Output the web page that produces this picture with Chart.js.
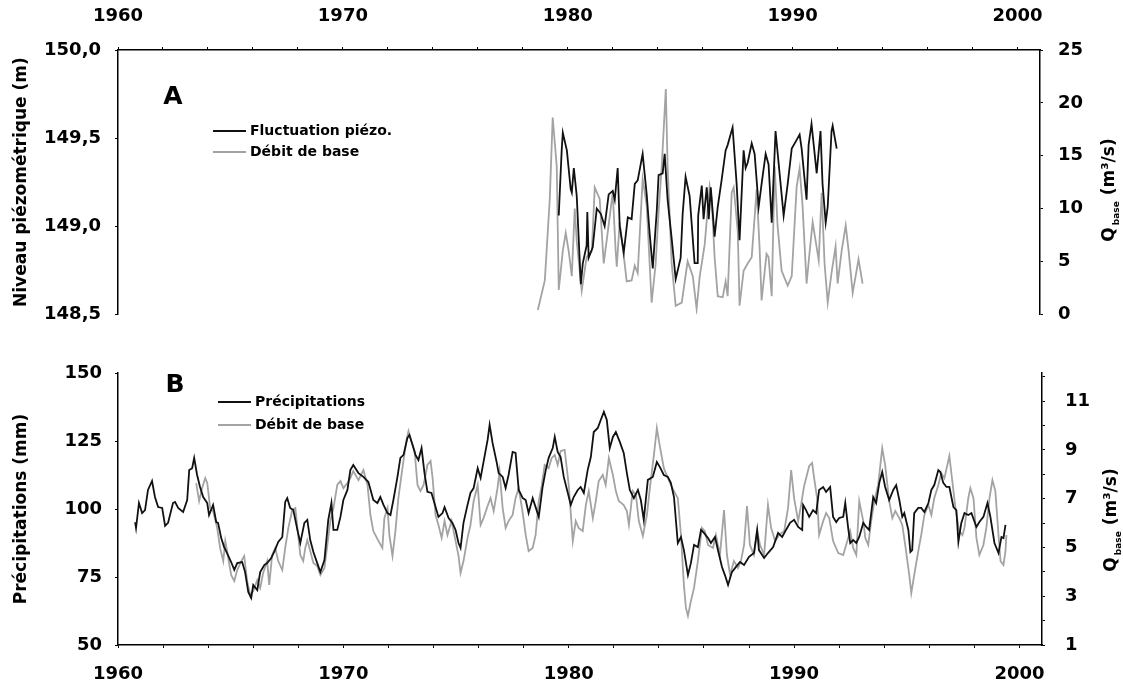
<!DOCTYPE html>
<html>
<head>
<meta charset="utf-8">
<script src="https://cdn.jsdelivr.net/npm/chart.js@4.4.1/dist/chart.umd.min.js"></script>
<style>
  html, body { margin: 0; padding: 0; background: #fff; }
  #wrap { position: relative; width: 1123px; height: 693px; }
  canvas { position: absolute; left: 0; }
  #chartA { top: 0; }
  #chartB { top: 340px; }
</style>
</head>
<body>
<div id="wrap">
  <canvas id="chartA" width="1123" height="340"></canvas>
  <canvas id="chartB" width="1123" height="353"></canvas>
</div>
<script>
// Panel A: piezometric level (left axis, m) and base flow (right axis, m3/s)
const piezoYears = [1979.6, 1979.73, 1979.78, 1979.96, 1980.13, 1980.18, 1980.27, 1980.4, 1980.58, 1980.67,
  1980.84, 1980.87, 1980.93, 1981.11, 1981.29, 1981.47, 1981.64, 1981.82, 1982.0, 1982.09,
  1982.22, 1982.31, 1982.49, 1982.67, 1982.84, 1982.98, 1983.11, 1983.33, 1983.51, 1983.64,
  1983.78, 1983.96, 1984.04, 1984.22, 1984.31, 1984.44, 1984.62, 1984.8, 1985.02, 1985.11,
  1985.24, 1985.42, 1985.64, 1985.78, 1985.8, 1985.96, 1986.04, 1986.18, 1986.27, 1986.36,
  1986.53, 1986.67, 1986.84, 1987.02, 1987.11, 1987.24, 1987.33, 1987.51, 1987.64, 1987.82,
  1987.91, 1988.0, 1988.18, 1988.31, 1988.49, 1988.62, 1988.8, 1988.93, 1989.07, 1989.24,
  1989.42, 1989.6, 1989.78, 1989.96, 1990.18, 1990.31, 1990.4, 1990.62, 1990.71, 1990.84,
  1991.07, 1991.24, 1991.33, 1991.47, 1991.56, 1991.73, 1991.78, 1991.96];
const piezoLevel = [149.06, 149.43, 149.53, 149.43, 149.21, 149.19, 149.33, 149.17, 148.67, 148.79,
  148.89, 149.08, 148.82, 148.88, 149.10, 149.07, 149.00, 149.18, 149.20, 149.15,
  149.33, 149.00, 148.85, 149.05, 149.04, 149.24, 149.26, 149.41, 149.18, 148.96,
  148.76, 149.09, 149.29, 149.30, 149.41, 149.15, 148.93, 148.70, 148.82, 149.07,
  149.28, 149.17, 148.79, 148.79, 149.06, 149.23, 149.04, 149.22, 149.04, 149.22,
  148.94, 149.11, 149.26, 149.43, 149.46, 149.52, 149.56, 149.24, 148.92, 149.43,
  149.33, 149.36, 149.47, 149.41, 149.11, 149.24, 149.41, 149.35, 149.02, 149.54,
  149.30, 149.06, 149.24, 149.44, 149.49, 149.52, 149.44, 149.15, 149.46, 149.58,
  149.30, 149.54, 149.24, 149.02, 149.11, 149.54, 149.57, 149.44];

const flowAYears = [1978.67, 1978.98, 1979.2, 1979.33, 1979.51, 1979.6, 1979.78, 1979.91, 1980.04, 1980.18,
  1980.31, 1980.4, 1980.62, 1980.84, 1981.07, 1981.2, 1981.42, 1981.6, 1981.78, 1982.0,
  1982.13, 1982.18, 1982.31, 1982.53, 1982.62, 1982.84, 1982.98, 1983.11, 1983.33, 1983.51,
  1983.73, 1983.91, 1984.04, 1984.18, 1984.36, 1984.44, 1984.62, 1984.8, 1985.07, 1985.33,
  1985.56, 1985.73, 1985.87, 1986.09, 1986.31, 1986.4, 1986.53, 1986.67, 1986.89, 1987.02,
  1987.11, 1987.29, 1987.38, 1987.56, 1987.64, 1987.82, 1988.0, 1988.18, 1988.4, 1988.53,
  1988.62, 1988.84, 1988.93, 1989.07, 1989.2, 1989.33, 1989.51, 1989.78, 1989.96, 1990.18,
  1990.31, 1990.44, 1990.62, 1990.76, 1990.89, 1991.07, 1991.16, 1991.29, 1991.42, 1991.56,
  1991.73, 1991.91, 1992.0, 1992.18, 1992.36, 1992.49, 1992.67, 1992.93, 1993.11];
const flowA = [0.4, 3.2, 10.9, 18.6, 14, 2.3, 6, 7.7, 6, 3.6,
  10, 6.9, 2.2, 5.4, 6, 12, 10.9, 4.8, 7.8, 11.5,
  6, 4.5, 8.7, 4.8, 3.1, 3.2, 4.6, 3.9, 12.8, 10.3,
  1.1, 4.8, 9.7, 14, 21.3, 14, 4.8, 0.8, 1.1, 5,
  3.6, 0.5, 3.6, 6.6, 12.1, 10.9, 5.4, 1.7, 1.6, 3.1,
  1.7, 11.5, 12, 7.8, 0.8, 4.1, 4.8, 5.4, 11.8, 6.3,
  1.3, 5.7, 5.4, 1.7, 14, 8.4, 4.1, 2.7, 3.6, 12.1,
  13.8, 10.3, 2.9, 6, 8.7, 6.3, 5.1, 11.5, 4.8, 1.1,
  3.9, 6.4, 2.9, 6, 8.4, 6, 2, 5.2, 2.9];

// Panel B: precipitation (left axis, mm) and base flow (right axis, m3/s)
const rainYears = [1960.76, 1960.8, 1960.93, 1961.07, 1961.2, 1961.33, 1961.51, 1961.64, 1961.78, 1961.96,
  1962.09, 1962.22, 1962.44, 1962.53, 1962.67, 1962.89, 1963.07, 1963.16, 1963.29, 1963.38,
  1963.51, 1963.64, 1963.78, 1963.96, 1964.04, 1964.22, 1964.36, 1964.44, 1964.58, 1964.71,
  1964.84, 1965.02, 1965.16, 1965.29, 1965.51, 1965.64, 1965.78, 1965.91, 1966.0, 1966.18,
  1966.31, 1966.49, 1966.62, 1966.8, 1966.93, 1967.11, 1967.29, 1967.42, 1967.51, 1967.64,
  1967.78, 1967.96, 1968.09, 1968.27, 1968.4, 1968.53, 1968.67, 1968.84, 1968.98, 1969.16,
  1969.33, 1969.47, 1969.56, 1969.73, 1969.87, 1970.0, 1970.18, 1970.31, 1970.44, 1970.67,
  1970.89, 1971.11, 1971.33, 1971.51, 1971.64, 1971.78, 1971.96, 1972.09, 1972.22, 1972.4,
  1972.53, 1972.67, 1972.84, 1972.93, 1973.07, 1973.2, 1973.33, 1973.47, 1973.6, 1973.73,
  1973.91, 1974.04, 1974.22, 1974.4, 1974.49, 1974.67, 1974.84, 1974.98, 1975.11, 1975.2,
  1975.33, 1975.51, 1975.64, 1975.78, 1975.96, 1976.09, 1976.22, 1976.4, 1976.49, 1976.62,
  1976.8, 1976.89, 1977.07, 1977.2, 1977.33, 1977.51, 1977.64, 1977.78, 1977.96, 1978.09,
  1978.22, 1978.4, 1978.53, 1978.67, 1978.84, 1978.98, 1979.11, 1979.29, 1979.38, 1979.51,
  1979.64, 1979.78, 1979.96, 1980.09, 1980.22, 1980.4, 1980.53, 1980.67, 1980.84, 1980.98,
  1981.11, 1981.29, 1981.42, 1981.56, 1981.69, 1981.82, 1981.96, 1982.09, 1982.27, 1982.44,
  1982.58, 1982.71, 1982.89, 1983.07, 1983.2, 1983.33, 1983.51, 1983.73, 1983.91, 1984.04,
  1984.22, 1984.4, 1984.53, 1984.67, 1984.84, 1984.98, 1985.11, 1985.29, 1985.42, 1985.56,
  1985.73, 1985.87, 1986.0, 1986.18, 1986.31, 1986.49, 1986.62, 1986.8, 1986.93, 1987.07,
  1987.24, 1987.42, 1987.6, 1987.78, 1988.0, 1988.22, 1988.36, 1988.44, 1988.67, 1988.84,
  1989.07, 1989.29, 1989.47, 1989.64, 1989.82, 1990.0, 1990.18, 1990.36, 1990.4, 1990.53,
  1990.67, 1990.84, 1990.98, 1991.11, 1991.29, 1991.42, 1991.6, 1991.73, 1991.87, 1992.0,
  1992.18, 1992.27, 1992.4, 1992.49, 1992.62, 1992.76, 1992.89, 1993.07, 1993.2, 1993.33,
  1993.51, 1993.64, 1993.78, 1993.91, 1994.04, 1994.22, 1994.4, 1994.53, 1994.67, 1994.8,
  1994.89, 1995.07, 1995.16, 1995.24, 1995.33, 1995.51, 1995.64, 1995.78, 1995.96, 1996.09,
  1996.22, 1996.4, 1996.49, 1996.62, 1996.76, 1996.89, 1997.07, 1997.2, 1997.29, 1997.42,
  1997.56, 1997.73, 1997.87, 1998.09, 1998.22, 1998.4, 1998.58, 1998.71, 1998.89, 1999.07,
  1999.2, 1999.29, 1999.38];
const rain = [95.2, 93, 102.2, 98.5, 99.6, 107, 110.3, 104.4, 100.7, 100.4,
  93.8, 94.9, 102.2, 102.6, 100.4, 98.9, 103.3, 114.3, 115, 118.8,
  112.5, 108.1, 104.4, 102.2, 97.8, 101.5, 95.2, 94.9, 89.3, 86,
  83.8, 80.5, 77.6, 80.1, 80.5, 76.8, 69.5, 67.3, 72.1, 70.2,
  76.8, 79.4, 80.1, 82, 84.2, 87.9, 89.7, 102.6, 104, 100.4,
  99.6, 92.3, 87.5, 94.9, 96, 88.6, 84.2, 80.1, 76.8, 81.2,
  96, 102.2, 92.3, 92.3, 97.1, 103.3, 107, 114.3, 116.2, 113.2,
  111.8, 109.9, 103.3, 102.2, 104.4, 101.5, 98.5, 97.8, 103.3, 111.8,
  118.8, 119.9, 126.1, 127.2, 123.5, 119.9, 118, 122.4, 113.2, 106.3,
  105.9, 102.2, 97.1, 98.5, 100.7, 96.7, 94.9, 92.3, 87.5, 85.7,
  94.9, 101.5, 105.9, 107.7, 115, 111.4, 117.3, 125.4, 130.9, 124.3,
  117.3, 113.2, 111.8, 107.7, 112.5, 121, 120.6, 107, 104, 103.3,
  98.5, 104, 100.7, 97.1, 108.1, 114.3, 118.8, 122.4, 126.5, 121,
  119.1, 111.8, 105.9, 101.5, 104.4, 107, 108.1, 105.9, 114.3, 119.1,
  128.3, 129.8, 132.7, 135.7, 132.7, 122.4, 126.5, 128.3, 124.6, 120.6,
  113.2, 107, 104, 107, 103.3, 96, 110.7, 111.8, 117.3, 115.5,
  112.5, 111.8, 109.6, 104.4, 87.5, 89.7, 84.9, 75.7, 80.1, 86.8,
  86, 92.3, 91.2, 89.3, 87.5, 89.7, 84.9, 78.7, 75.7, 72.1,
  76.8, 78.7, 80.5, 79.4, 82.4, 83.8, 92.3, 84.9, 82, 83.8,
  86, 91.2, 89.7, 92.3, 94.9, 96, 93.4, 92.3, 101.5, 99.6,
  97.1, 99.6, 98.5, 107, 108.1, 106.3, 108.1, 97.1, 95.2, 96.7,
  97.1, 102.2, 93, 87.5, 88.6, 87.5, 89.7, 94.9, 93.4, 92.3,
  104.4, 102.2, 109.6, 113.6, 108.1, 103.3, 107, 108.8, 103.3, 97.1,
  98.5, 92.3, 84.2, 84.9, 98.5, 100.4, 100.4, 98.9, 102.2, 107,
  108.8, 114.3, 113.6, 109.6, 108.1, 108.1, 100.7, 99.6, 87.9, 94.9,
  98.5, 97.8, 98.5, 93.4, 95.2, 97.1, 102.2, 97.1, 87.5, 83.8,
  89.7, 89.3, 94.2];

const flowBYears = [1963.47, 1963.6, 1963.73, 1963.87, 1963.96, 1964.09, 1964.22, 1964.4, 1964.53, 1964.67,
  1964.76, 1964.84, 1965.02, 1965.16, 1965.29, 1965.47, 1965.6, 1965.73, 1965.87, 1966.0,
  1966.18, 1966.31, 1966.44, 1966.62, 1966.71, 1966.84, 1966.98, 1967.11, 1967.29, 1967.42,
  1967.56, 1967.73, 1967.87, 1967.96, 1968.09, 1968.22, 1968.31, 1968.4, 1968.53, 1968.67,
  1968.84, 1968.98, 1969.16, 1969.29, 1969.42, 1969.56, 1969.73, 1969.87, 1970.0, 1970.18,
  1970.31, 1970.44, 1970.67, 1970.89, 1971.07, 1971.2, 1971.33, 1971.56, 1971.73, 1971.82,
  1971.96, 1972.04, 1972.18, 1972.31, 1972.44, 1972.62, 1972.8, 1972.89, 1973.02, 1973.16,
  1973.29, 1973.42, 1973.56, 1973.73, 1973.87, 1973.96, 1974.09, 1974.22, 1974.36, 1974.49,
  1974.62, 1974.8, 1974.98, 1975.11, 1975.2, 1975.33, 1975.51, 1975.64, 1975.78, 1975.96,
  1976.09, 1976.22, 1976.4, 1976.53, 1976.67, 1976.84, 1976.93, 1977.07, 1977.2, 1977.33,
  1977.51, 1977.64, 1977.78, 1977.96, 1978.09, 1978.22, 1978.4, 1978.53, 1978.67, 1978.8,
  1978.93, 1979.11, 1979.24, 1979.38, 1979.51, 1979.64, 1979.82, 1980.0, 1980.18, 1980.31,
  1980.44, 1980.62, 1980.76, 1980.89, 1981.07, 1981.2, 1981.33, 1981.51, 1981.64, 1981.78,
  1981.96, 1982.09, 1982.22, 1982.44, 1982.58, 1982.67, 1982.84, 1982.98, 1983.11, 1983.29,
  1983.47, 1983.6, 1983.78, 1983.91, 1984.04, 1984.22, 1984.4, 1984.53, 1984.67, 1984.84,
  1984.98, 1985.11, 1985.2, 1985.29, 1985.42, 1985.56, 1985.73, 1985.91, 1986.04, 1986.18,
  1986.4, 1986.53, 1986.71, 1986.89, 1987.02, 1987.16, 1987.33, 1987.51, 1987.64, 1987.78,
  1987.91, 1988.04, 1988.22, 1988.36, 1988.49, 1988.67, 1988.84, 1988.98, 1989.16, 1989.33,
  1989.56, 1989.73, 1989.87, 1990.0, 1990.18, 1990.31, 1990.44, 1990.67, 1990.8, 1990.89,
  1991.02, 1991.11, 1991.29, 1991.42, 1991.56, 1991.73, 1991.96, 1992.18, 1992.31, 1992.49,
  1992.62, 1992.76, 1992.89, 1993.07, 1993.16, 1993.29, 1993.42, 1993.56, 1993.73, 1993.91,
  1994.04, 1994.22, 1994.36, 1994.49, 1994.67, 1994.8, 1994.93, 1995.11, 1995.2, 1995.33,
  1995.51, 1995.64, 1995.78, 1995.96, 1996.09, 1996.22, 1996.4, 1996.53, 1996.67, 1996.89,
  1997.02, 1997.16, 1997.33, 1997.47, 1997.56, 1997.73, 1997.82, 1997.96, 1998.09, 1998.22,
  1998.4, 1998.53, 1998.67, 1998.8, 1998.93, 1999.07, 1999.16, 1999.29, 1999.38, 1999.42];
const flowB = [7.64, 6.9, 7.43, 7.84, 7.64, 6.61, 6.49, 5.8, 4.98, 4.44,
  5.26, 4.85, 3.87, 3.62, 4.07, 4.44, 4.65, 3.62, 3.05, 3.21,
  3.66, 3.34, 3.95, 4.44, 3.46, 4.69, 4.98, 4.44, 4.07, 4.98,
  5.8, 6.53, 6.61, 5.8, 4.69, 4.44, 4.98, 5.3, 4.85, 4.36,
  4.24, 3.87, 4.16, 5.1, 6.08, 6.61, 7.56, 7.72, 7.43, 7.64,
  7.84, 8.13, 7.76, 8.17, 7.56, 6.33, 5.67, 5.26, 4.98, 6.2,
  6.61, 5.51, 4.65, 5.67, 7.02, 8.25, 9.4, 9.77, 9.36, 8.95,
  7.56, 7.31, 7.56, 8.38, 8.54, 7.84, 6.33, 5.92, 5.39, 6.08,
  5.51, 6.08, 5.26, 4.65, 3.95, 4.44, 5.39, 5.92, 6.9, 7.56,
  5.92, 6.2, 6.7, 7.02, 6.49, 7.43, 8.13, 6.61, 5.8, 6.08,
  6.33, 7.02, 7.43, 6.41, 5.51, 4.85, 4.98, 5.51, 6.9, 7.52,
  8.38, 8.25, 8.66, 8.79, 8.38, 8.95, 9.0, 7.56, 5.26, 6.08,
  5.8, 5.67, 6.74, 7.31, 6.2, 6.9, 7.72, 7.97, 7.56, 8.66,
  7.97, 7.31, 6.9, 6.74, 6.49, 5.92, 7.31, 7.15, 6.08, 5.47,
  6.33, 7.43, 8.79, 9.89, 9.16, 8.25, 7.84, 7.56, 7.31, 7.02,
  5.51, 3.46, 2.52, 2.19, 2.8, 3.34, 4.44, 5.8, 5.67, 5.1,
  4.98, 5.51, 4.69, 6.53, 4.69, 3.87, 4.44, 4.16, 4.44, 5.1,
  6.7, 5.1, 4.69, 5.67, 5.1, 4.69, 6.74, 5.8, 5.26, 5.51,
  5.67, 6.61, 8.17, 7.02, 6.08, 6.74, 7.5, 8.34, 8.46, 7.84,
  7.02, 5.51, 6.08, 6.41, 6.2, 5.26, 4.77, 4.69, 5.1, 5.67,
  4.98, 4.69, 6.9, 6.08, 5.39, 5.1, 6.08, 6.9, 7.56, 9.07,
  8.38, 6.9, 6.2, 6.49, 6.2, 5.92, 5.1, 3.87, 3.13, 3.87,
  4.85, 5.51, 6.33, 6.74, 6.33, 7.02, 7.56, 8.05, 7.84, 8.75,
  7.72, 6.61, 5.67, 5.51, 5.8, 7.02, 7.43, 7.02, 5.39, 4.69,
  5.1, 5.8, 7.02, 7.76, 7.31, 5.51, 4.44, 4.28, 4.85, 5.51];

// decade labels, ticks every 2 years
const yearTicks = [];
for (let y = 1960; y <= 2000; y += 2) yearTicks.push(y);

const FONT = '"DejaVu Sans", "Liberation Sans", Arial, sans-serif';
const BLACK = '#111';
const GREY = '#a3a3a3';

const toPoints = (xs, ys) => xs.map((x, i) => ({ x: x, y: ys[i] }));

// letter, legend and the right-hand axis title (Q with "base" subscript)
const extras = {
  id: 'extras',
  afterDraw(chart, args, o) {
    const ctx = chart.ctx;
    ctx.save();
    ctx.fillStyle = '#000';
    ctx.font = 'bold 25px ' + FONT;
    ctx.textAlign = 'center';
    ctx.textBaseline = 'middle';
    ctx.fillText(o.letter, o.letterX, o.letterY);

    ctx.font = 'bold 14px ' + FONT;
    ctx.textAlign = 'left';
    chart.data.datasets.forEach((ds, i) => {
      const y = o.legendY + i * o.legendGap;
      ctx.strokeStyle = ds.borderColor;
      ctx.lineWidth = ds.borderWidth;
      ctx.beginPath();
      ctx.moveTo(o.legendX, y);
      ctx.lineTo(o.legendX + 33, y);
      ctx.stroke();
      ctx.fillText(ds.label, o.legendX + 37, y);
    });

    ctx.translate(o.qX, o.qY);
    ctx.rotate(-Math.PI / 2);
    ctx.textBaseline = 'alphabetic';
    const big = 'bold 17px ' + FONT, small = 'bold 9px ' + FONT;
    ctx.font = big;
    const wQ = ctx.measureText('Q').width;
    const wU = ctx.measureText(' (m³/s)').width;
    ctx.font = small;
    const wB = ctx.measureText('base').width;
    let x = -(wQ + 2 + wB + wU) / 2;
    ctx.font = big;
    ctx.fillText('Q', x, 6);
    x += wQ + 2;
    ctx.font = small;
    ctx.fillText('base', x, 11);
    x += wB;
    ctx.font = big;
    ctx.fillText(' (m³/s)', x, 6);
    ctx.restore();
  }
};

function axisStyle() {
  return {
    border: { display: true, color: '#000', width: 1.5 },
    grid: { drawOnChartArea: false, drawTicks: true, tickLength: 3, tickColor: '#000', tickWidth: 1 }
  };
}

function xAxis(position, pad, h) {
  return Object.assign(axisStyle(), {
    type: 'linear',
    position: position,
    min: 1960,
    max: 2001,
    afterBuildTicks: s => { s.ticks = yearTicks.map(v => ({ value: v })); },
    afterFit: s => { s.height = h; },
    ticks: {
      autoSkip: false, maxRotation: 0, padding: pad, color: '#000',
      font: { family: FONT, size: 18, weight: 'bold' },
      callback: v => (v % 10 === 0 ? String(v) : '')
    }
  });
}

function yAxis(position, w, pad, title) {
  const a = Object.assign(axisStyle(), {
    type: 'linear',
    position: position,
    afterFit: s => { s.width = w; },
    ticks: { padding: pad, color: '#000', font: { family: FONT, size: 18, weight: 'bold' } }
  });
  if (title) {
    a.title = { display: true, text: title, color: '#000', padding: { top: 11, bottom: 0 },
      font: { family: FONT, size: 17, weight: 'bold' } };
  }
  return a;
}

function lineSet(label, pts, color, axis) {
  return {
    label: label, data: pts, yAxisID: axis,
    borderColor: color, borderWidth: 1.8, pointRadius: 0, tension: 0, fill: false
  };
}

// ---- Panel A ----
const aLeft = yAxis('left', 118, 14, 'Niveau piézométrique (m)');
aLeft.min = 148.5; aLeft.max = 150;
aLeft.ticks.stepSize = 0.5;
aLeft.ticks.callback = v => v.toFixed(1).replace('.', ',');
const aRight = yAxis('right', 83, 15);
aRight.min = 0; aRight.max = 25;
aRight.ticks.stepSize = 5;

new Chart(document.getElementById('chartA'), {
  type: 'line',
  data: {
    datasets: [
      lineSet('Fluctuation piézo.', toPoints(piezoYears, piezoLevel), BLACK, 'yL'),
      lineSet('Débit de base', toPoints(flowAYears, flowA), GREY, 'yR')
    ]
  },
  options: {
    responsive: false,
    animation: false,
    layout: { padding: { left: 0, right: 0, top: 0, bottom: 18 } },
    plugins: {
      legend: { display: false },
      tooltip: { enabled: false },
      extras: { letter: 'A', letterX: 173, letterY: 97, legendX: 213, legendY: 131, legendGap: 21, qX: 1108, qY: 190 }
    },
    scales: { x: xAxis('top', 20, 50), yL: aLeft, yR: aRight }
  },
  plugins: [extras]
});

// ---- Panel B ----
const bLeft = yAxis('left', 118, 13, 'Précipitations (mm)');
bLeft.min = 50; bLeft.max = 150;
bLeft.ticks.stepSize = 25;
const bRight = yAxis('right', 81, 20);
bRight.min = 1; bRight.max = 12.15;
bRight.afterBuildTicks = s => {
  const t = [];
  for (let v = 1; v <= 12; v++) t.push({ value: v });
  s.ticks = t;
};
bRight.ticks.callback = v => (v % 2 === 1 ? String(v) : '');

new Chart(document.getElementById('chartB'), {
  type: 'line',
  data: {
    datasets: [
      lineSet('Précipitations', toPoints(rainYears, rain), BLACK, 'yL'),
      lineSet('Débit de base', toPoints(flowBYears, flowB), GREY, 'yR')
    ]
  },
  options: {
    responsive: false,
    animation: false,
    layout: { padding: { left: 0, right: 0, top: 33, bottom: 0 } },
    plugins: {
      legend: { display: false },
      tooltip: { enabled: false },
      extras: { letter: 'B', letterX: 175, letterY: 45, legendX: 218, legendY: 62, legendGap: 23, qX: 1110, qY: 180 }
    },
    scales: { x: xAxis('bottom', 16, 48), yL: bLeft, yR: bRight }
  },
  plugins: [extras]
});
</script>
</body>
</html>
